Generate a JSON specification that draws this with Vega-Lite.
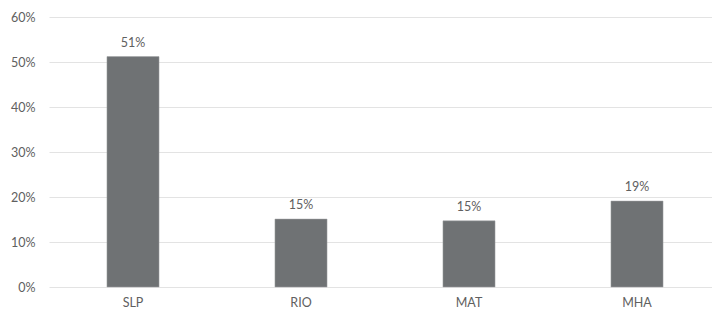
{
  "$schema": "https://vega.github.io/schema/vega-lite/v6.json",
  "width": 672,
  "height": 270,
  "autosize": {"type": "none"},
  "padding": {"left": 49, "top": 17, "right": 0, "bottom": 23},
  "background": "white",
  "config": {
    "view": {"stroke": null},
    "font": "Lato",
    "axis": {"labelFont": "Lato", "labelFontSize": 12.5, "labelColor": "#606060"}
  },
  "data": {
    "values": [
      {"group": "SLP", "share": 0.512},
      {"group": "RIO", "share": 0.151},
      {"group": "MAT", "share": 0.147},
      {"group": "MHA", "share": 0.191}
    ]
  },
  "encoding": {
    "x": {
      "field": "group",
      "type": "nominal",
      "sort": null,
      "scale": {"paddingInner": 0.69, "paddingOuter": 0.345},
      "axis": {"title": null, "labelAngle": 0, "ticks": false, "domain": false, "labelPadding": 9, "grid": false}
    },
    "y": {
      "field": "share",
      "type": "quantitative",
      "scale": {"domain": [0, 0.6], "nice": false},
      "axis": {"title": null, "format": ".0%", "values": [0, 0.1, 0.2, 0.3, 0.4, 0.5, 0.6], "labelOverlap": false, "labelBound": false, "labelFlush": false, "ticks": false, "domain": false, "labelPadding": 14, "grid": true, "gridColor": "#e3e3e3", "gridWidth": 1}
    }
  },
  "layer": [
    {"mark": {"type": "bar", "color": "#6f7274", "stroke": "#a0a3a5", "strokeWidth": 0.5}},
    {"mark": {"type": "text", "baseline": "alphabetic", "dy": -10, "fontSize": 12.5, "color": "#606060"},
     "encoding": {"text": {"field": "share", "type": "quantitative", "format": ".0%"}}}
  ]
}
